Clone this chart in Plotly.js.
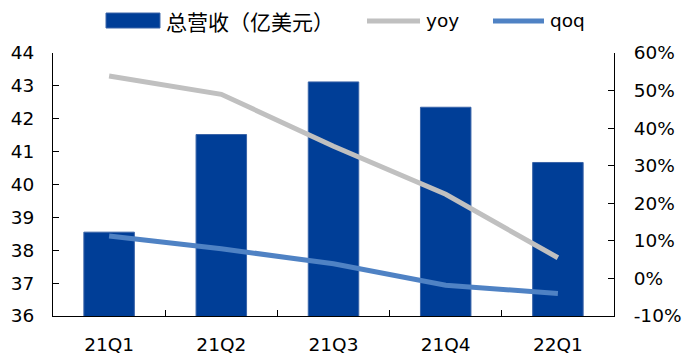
<!DOCTYPE html>
<html>
<head>
<meta charset="utf-8">
<script src="https://cdn.plot.ly/plotly-3.0.1.min.js"></script>
<style>
  html, body { margin: 0; padding: 0; background: #ffffff; }
  #chart { width: 684px; height: 358px; }
</style>
</head>
<body>
<div id="chart"></div>
<script>
// Quarterly revenue (100M USD) with YoY and QoQ growth rates
const quarters = ['21Q1', '21Q2', '21Q3', '21Q4', '22Q1'];
const revenue = [38.55, 41.52, 43.12, 42.35, 40.67];
const yoy = [0.539, 0.490, 0.352, 0.224, 0.055];
const qoq = [0.113, 0.079, 0.039, -0.018, -0.040];
const seriesNames = ['总营收（亿美元）', 'yoy', 'qoq'];
const pctTickVals = [-0.10, 0, 0.10, 0.20, 0.30, 0.40, 0.50, 0.60];
const pctTickText = ['-10%', '0%', '10%', '20%', '30%', '40%', '50%', '60%'];

const barColor = '#003e97';
const yoyColor = '#c0c0c0';
const qoqColor = '#4f82c4';
const tickFont = { family: 'DejaVu Sans, Verdana, sans-serif', size: 18.5, color: '#000000' };

const traces = [
  {
    type: 'bar', name: seriesNames[0], x: quarters, y: revenue,
    marker: { color: barColor, line: { color: '#3a64a8', width: 1 } },
    width: 0.45, yaxis: 'y'
  },
  {
    type: 'scatter', mode: 'lines', name: seriesNames[1], x: quarters, y: yoy,
    line: { color: yoyColor, width: 5 }, yaxis: 'y2'
  },
  {
    type: 'scatter', mode: 'lines', name: seriesNames[2], x: quarters, y: qoq,
    line: { color: qoqColor, width: 5 }, yaxis: 'y2'
  }
];

// Hand-built legend row along the top edge
const legendShapes = [
  { type: 'rect', xref: 'paper', yref: 'paper', x0: 0.0945, x1: 0.1907, y0: 1.095, y1: 1.152,
    fillcolor: barColor, line: { color: '#3a64a8', width: 1 } },
  { type: 'line', xref: 'paper', yref: 'paper', x0: 0.5597, x1: 0.6542, y0: 1.1217, y1: 1.1217,
    line: { color: yoyColor, width: 5 } },
  { type: 'line', xref: 'paper', yref: 'paper', x0: 0.7843, x1: 0.8752, y0: 1.1217, y1: 1.1217,
    line: { color: qoqColor, width: 5 } }
];
const legendText = [
  { x: 0.197, font: { family: 'Noto Sans CJK SC, sans-serif', size: 21, color: '#000' } },
  { x: 0.662, font: { family: 'DejaVu Sans, sans-serif', size: 18.5, color: '#000' } },
  { x: 0.883, font: { family: 'DejaVu Sans, sans-serif', size: 18.5, color: '#000' } }
].map((o, i) => ({
  xref: 'paper', yref: 'paper', x: o.x, y: 1.1217, xanchor: 'left', yanchor: 'middle',
  text: seriesNames[i], showarrow: false, font: o.font
}));

const layout = {
  width: 684, height: 358,
  margin: { l: 53, r: 70, t: 53, b: 42 },
  paper_bgcolor: '#ffffff', plot_bgcolor: '#ffffff',
  showlegend: false,
  xaxis: {
    type: 'category', tickfont: tickFont,
    showline: true, linecolor: '#000', linewidth: 1,
    ticks: 'inside', tickson: 'boundaries', ticklen: 6, tickcolor: '#000',
    showgrid: false, zeroline: false, ticklabelstandoff: 12
  },
  yaxis: {
    range: [36, 44], dtick: 1, tickfont: tickFont,
    showline: true, linecolor: '#000', linewidth: 1,
    ticks: 'inside', ticklen: 6, tickcolor: '#000',
    showgrid: false, zeroline: false, ticklabelstandoff: 14
  },
  yaxis2: {
    overlaying: 'y', side: 'right',
    range: [-0.10, 0.60], tickmode: 'array', tickvals: pctTickVals, ticktext: pctTickText,
    tickfont: tickFont,
    showline: true, linecolor: '#000', linewidth: 1,
    ticks: 'inside', ticklen: 6, tickcolor: '#000',
    showgrid: false, zeroline: false, ticklabelstandoff: 15
  },
  shapes: legendShapes,
  annotations: legendText
};

Plotly.newPlot('chart', traces, layout, { displayModeBar: false, staticPlot: true });
</script>
</body>
</html>
